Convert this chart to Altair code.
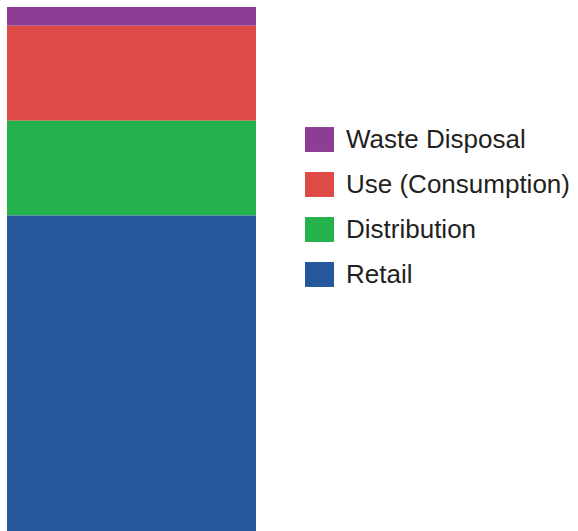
import altair as alt
import pandas as pd

stages = ["Waste Disposal", "Use (Consumption)", "Distribution", "Retail"]
shares = [3.6, 18.1, 18.1, 60.2]
stack_order = [4, 3, 2, 1]
colors = ["#8E3D97", "#DE4A46", "#25B24D", "#25579B"]

df = pd.DataFrame({
    "group": ["All"] * len(stages),
    "stage": stages,
    "share": shares,
    "order": stack_order,
})

rect_path = "M-1,-0.86L1,-0.86L1,0.86L-1,0.86Z"

chart = alt.Chart(df).mark_bar(stroke=None).encode(
    x=alt.X("group:N", axis=None,
            scale=alt.Scale(paddingInner=0, paddingOuter=0)),
    y=alt.Y("share:Q", axis=None, stack="zero",
            scale=alt.Scale(domain=[0, 100], nice=False)),
    color=alt.Color("stage:N",
                    scale=alt.Scale(domain=stages, range=colors),
                    legend=alt.Legend(
                        title=None,
                        orient="none",
                        legendX=298,
                        legendY=118,
                        symbolType=rect_path,
                        symbolSize=841,
                        symbolStrokeWidth=0,
                        symbolOpacity=1,
                        labelFont="Liberation Sans",
                        labelFontSize=26,
                        labelColor="#231F20",
                        labelOffset=12,
                        labelLimit=400,
                        rowPadding=17,
                    )),
    order=alt.Order("order:Q"),
).properties(
    width=249,
    height=524,
    padding={"left": 7, "top": 7, "right": 322, "bottom": 0},
    autosize=alt.AutoSizeParams(type="none"),
).configure_view(stroke=None)

chart.save("out.html", embed_options={"renderer": "svg", "actions": False})
